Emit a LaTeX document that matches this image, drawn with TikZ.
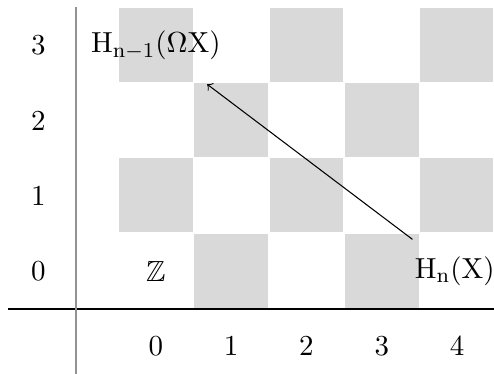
\documentclass[tikz,border=0pt]{standalone}
\usepackage{amsmath}
\usepackage{amssymb}
\usepackage{tikz}

\tikzset{
  cellfill/.style={fill=gray!30, draw=none},
  gridlabel/.style={font=\fontsize{11}{13}\selectfont},
}

\begin{document}
\begin{tikzpicture}[every node/.style={gridlabel}]
                    \useasboundingbox (-1.01,-0.863) rectangle (5.551,4.104);
                    % shaded cells
                    \fill[cellfill] (0.57,3.02) rectangle (1.55,4);
                    \fill[cellfill] (2.57,3.02) rectangle (3.55,4);
                    \fill[cellfill] (4.57,3.02) rectangle (5.54,4);
                    \fill[cellfill] (1.57,2.02) rectangle (2.55,3);
                    \fill[cellfill] (3.57,2.02) rectangle (4.55,3);
                    \fill[cellfill] (0.57,1.02) rectangle (1.55,2);
                    \fill[cellfill] (2.57,1.02) rectangle (3.55,2);
                    \fill[cellfill] (4.57,1.02) rectangle (5.54,2);
                    \fill[cellfill] (1.57,0.02) rectangle (2.55,1);
                    \fill[cellfill] (3.57,0.02) rectangle (4.55,1);
                    % axes
                    \coordinate (xleft) at (-0.9,0);
                    \coordinate (xright) at (5.551,0);
                    \coordinate (ytop) at (0,4.01);
                    \coordinate (ybottom) at (0,-0.863);
                    \draw[black, line width=0.5pt] (xleft) -- (xright);
                    \draw[gray!85, line width=0.8pt] (ybottom) -- (ytop);
                    % row and column labels
                    \node (r0) at (-0.5,0.5) {$0$};
                    \node (r1) at (-0.5,1.5) {$1$};
                    \node (r2) at (-0.5,2.5) {$2$};
                    \node (r3) at (-0.5,3.5) {$3$};
                    \node (c0) at (1.06,-0.5) {$0$};
                    \node (c1) at (2.06,-0.5) {$1$};
                    \node (c2) at (3.06,-0.5) {$2$};
                    \node (c3) at (4.06,-0.5) {$3$};
                    \node (c4) at (5.06,-0.5) {$4$};
                    % entries
                    \node (zz) at (1.06,0.5) {$\mathbb{Z}$};
                    \node (hn) at (5.03,0.5) {$\mathrm{H}_{\mathrm{n}}(\mathrm{X})$};
                    \node (hnone) at (1.06,3.5) {$\mathrm{H}_{\mathrm{n}-1}(\Omega \mathrm{X})$};
                    \draw[->, shorten <=0.18cm, shorten >=0.33cm] (hn) -- (hnone);
                \end{tikzpicture}
\end{document}
